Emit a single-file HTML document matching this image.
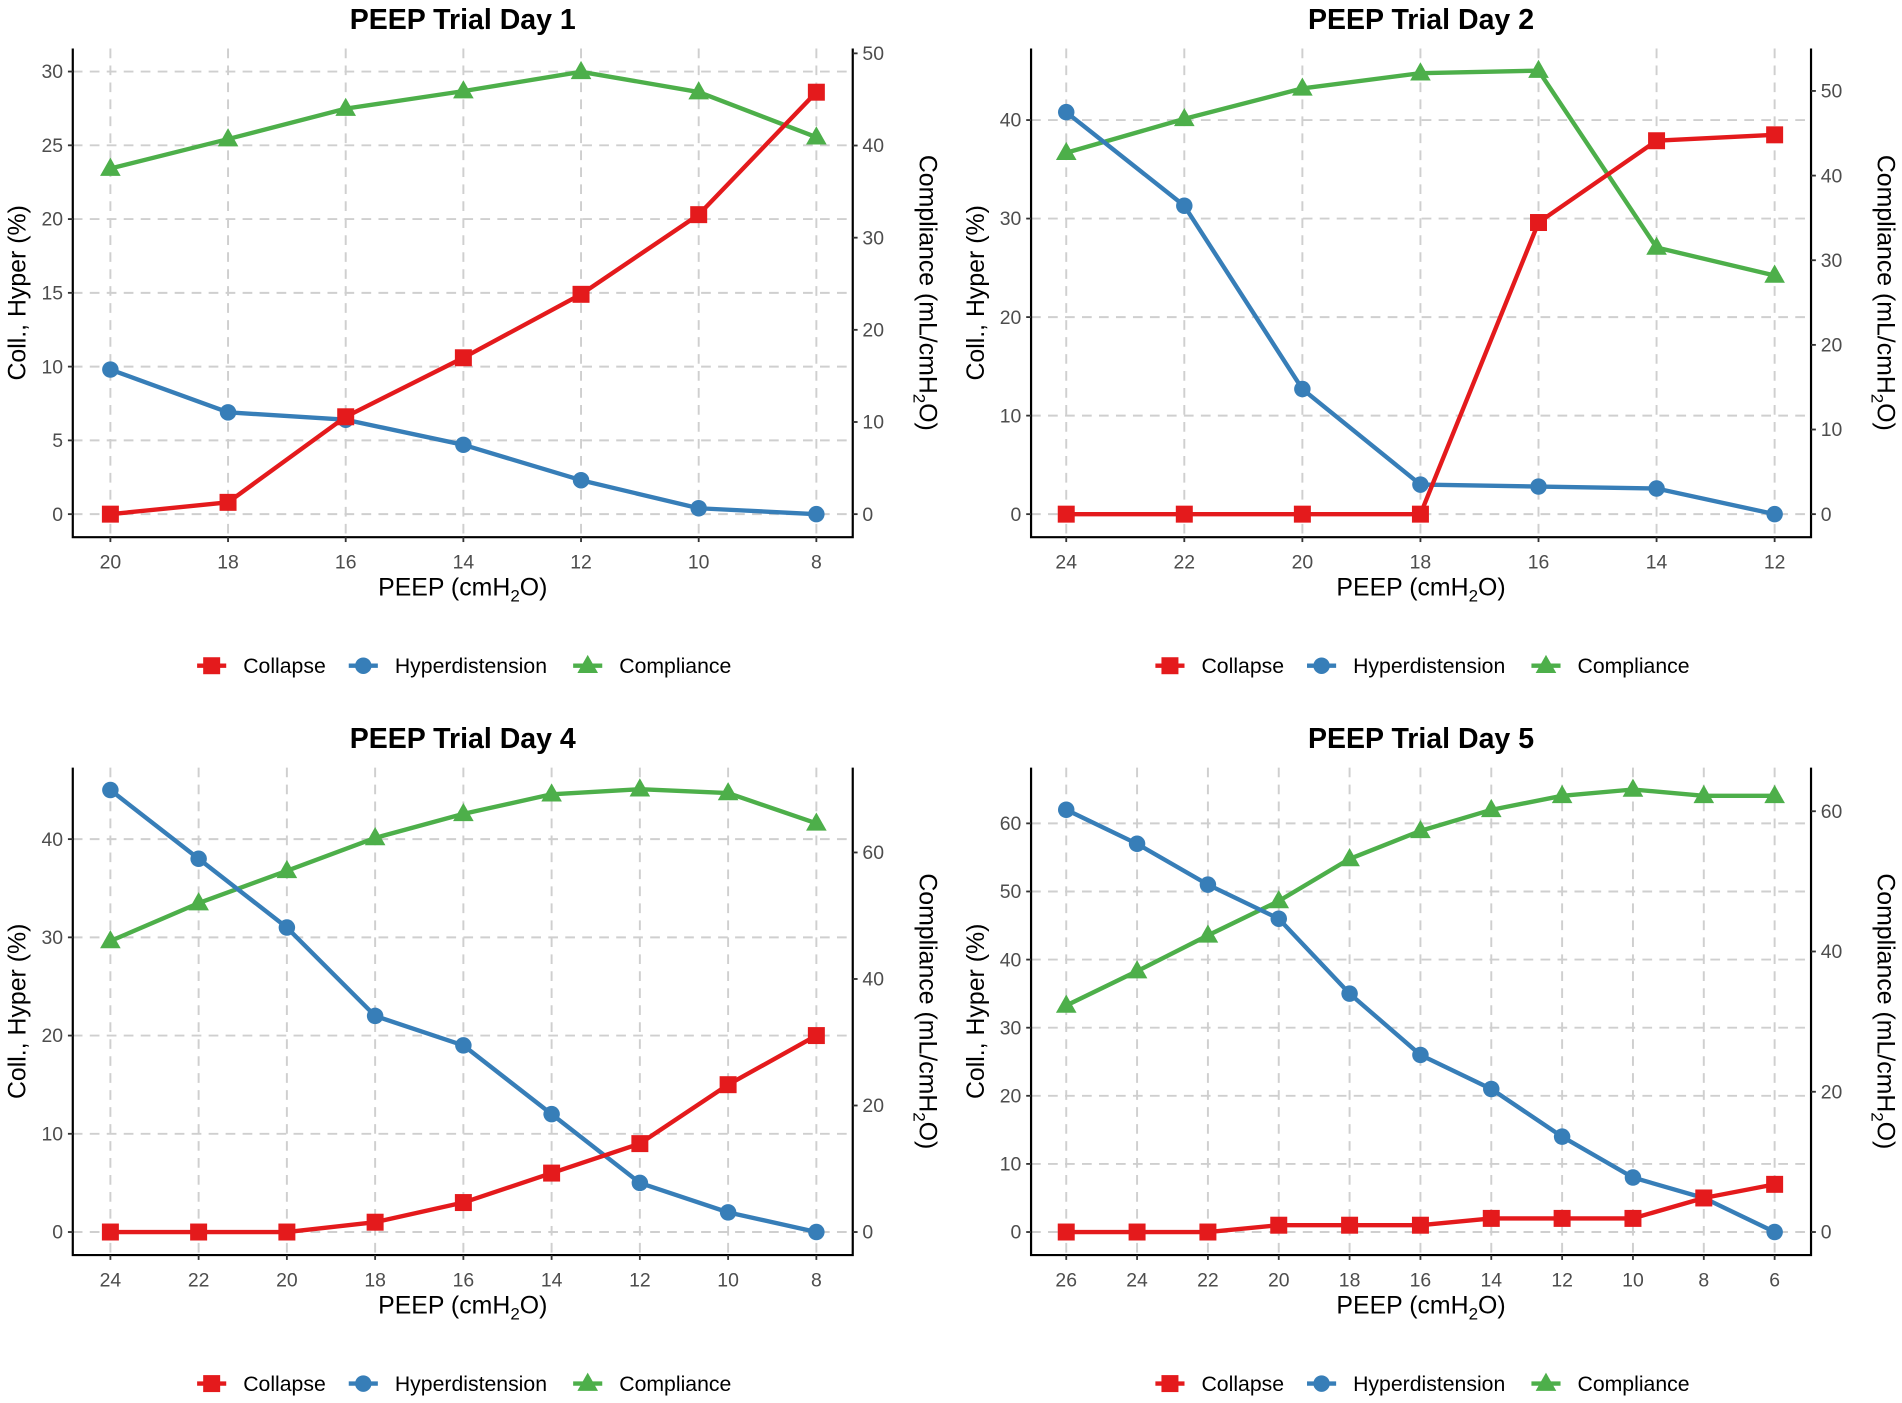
<!DOCTYPE html>
<html><head><meta charset="utf-8"><style>
html,body{margin:0;padding:0;background:#fff}
svg{display:block}
text{font-family:"Liberation Sans",sans-serif}
</style></head><body>
<svg id="chart" width="1902" height="1403" viewBox="0 0 1568 1157" preserveAspectRatio="none" xmlns="http://www.w3.org/2000/svg"></svg>
<script>
// Day 1
const d1Peep = [20,18,16,14,12,10,8];
const d1Collapse = [0,0.8,6.6,10.6,14.9,20.3,28.6];
const d1Hyper = [9.8,6.9,6.4,4.7,2.3,0.4,0];
const d1Compliance = [37.5,40.7,44,45.9,48,45.8,40.9];
const d1LeftTicks = [0,5,10,15,20,25,30];
const d1RightTicks = [0,10,20,30,40,50];
// Day 2
const d2Peep = [24,22,20,18,16,14,12];
const d2Collapse = [0,0,0,0,29.6,37.9,38.5];
const d2Hyper = [40.8,31.3,12.7,3,2.8,2.6,0];
const d2Compliance = [42.7,46.7,50.3,52.1,52.4,31.5,28.2];
const d2LeftTicks = [0,10,20,30,40];
const d2RightTicks = [0,10,20,30,40,50];
// Day 4
const d4Peep = [24,22,20,18,16,14,12,10,8];
const d4Collapse = [0,0,0,1,3,6,9,15,20];
const d4Hyper = [45,38,31,22,19,12,5,2,0];
const d4Compliance = [46,52,57.1,62.3,66.1,69.2,70,69.4,64.6];
const d4LeftTicks = [0,10,20,30,40];
const d4RightTicks = [0,20,40,60];
// Day 5
const d5Peep = [26,24,22,20,18,16,14,12,10,8,6];
const d5Collapse = [0,0,0,1,1,1,2,2,2,5,7];
const d5Hyper = [62,57,51,46,35,26,21,14,8,5,0];
const d5Compliance = [32.3,37.2,42.3,47.2,53.2,57.2,60.2,62.2,63.1,62.2,62.2];
const d5LeftTicks = [0,10,20,30,40,50,60];
const d5RightTicks = [0,20,40,60];

const svg = document.getElementById('chart');
const NS = 'http://www.w3.org/2000/svg';
function mk(tag, attrs, parent, txt){
  const e = document.createElementNS(NS, tag);
  for (const k in attrs) e.setAttribute(k, attrs[k]);
  if (txt !== undefined) e.textContent = txt;
  (parent||svg).appendChild(e);
  return e;
}
const RED='#e41a1c', BLUE='#377eb8', GREEN='#4daf4a';

function marker(g, type, x, y, color){
  let m;
  if (type==='sq') m = mk('rect',{x:x-7,y:y-7,width:14,height:14,fill:color},g);
  else if (type==='ci') m = mk('circle',{cx:x,cy:y,r:6.8,fill:color},g);
  else m = mk('polygon',{points:`${x},${y-9} ${x-8.5},${y+6} ${x+8.5},${y+6}`,fill:color},g);
  return m;
}

function panel(o){
  const g = mk('g',{});
  
  
  const n = o.peep.length;
  const xs = i => o.x0 + (o.x1 - o.x0) * i / (n - 1);
  const yl = v => o.y0 - (o.y0 - o.yTop) * v / o.lMax;
  const yr = v => o.y0 - (o.y0 - o.yRTop) * v / o.rMax;
  o.lTicks.forEach(t=>{
    const l = mk('line',{x1:o.L,x2:o.R,y1:yl(t),y2:yl(t),stroke:'#cfcfcf','stroke-width':1.6,'stroke-dasharray':'8,6'},g);
    
    
  });
  o.peep.forEach((p,i)=>{
    const l = mk('line',{x1:xs(i),x2:xs(i),y1:o.T,y2:o.B,stroke:'#cfcfcf','stroke-width':1.6,'stroke-dasharray':'8,6'},g);
    
    
  });
  mk('path',{d:`M${o.L},${o.T} V${o.B} H${o.R} V${o.T}`,fill:'none',stroke:'#000','stroke-width':1.8},g);
  o.lTicks.forEach(t=>{
    mk('line',{x1:o.L-4,x2:o.L,y1:yl(t),y2:yl(t),stroke:'#333','stroke-width':1.5},g);
    const tx = mk('text',{x:o.L-8,y:yl(t)+5.5,'text-anchor':'end','font-size':16,fill:'#4d4d4d'},g,String(t));
    
    
  });
  o.rTicks.forEach(t=>{
    mk('line',{x1:o.R,x2:o.R+4,y1:yr(t),y2:yr(t),stroke:'#333','stroke-width':1.5},g);
    const tx = mk('text',{x:o.R+8,y:yr(t)+5.5,'font-size':16,fill:'#4d4d4d'},g,String(t));
    
    
  });
  o.peep.forEach((p,i)=>{
    mk('line',{x1:xs(i),x2:xs(i),y1:o.B,y2:o.B+4,stroke:'#333','stroke-width':1.5},g);
    const tx = mk('text',{x:xs(i),y:o.B+26,'text-anchor':'middle','font-size':16,fill:'#4d4d4d'},g,String(p));
    
    
  });
  const cx = (o.L+o.R)/2, cy = (o.T+o.B)/2;
  const title = mk('text',{x:cx,y:o.T-16,'text-anchor':'middle','font-size':23.5,'font-weight':'bold',fill:'#000'},g,o.title);
  
  
  const xt = mk('text',{x:cx,y:o.B+48,'text-anchor':'middle','font-size':20.5,fill:'#000'},g);
  
  
  xt.innerHTML = 'PEEP (cmH<tspan font-size="14" dy="5">2</tspan><tspan dy="-5">O)</tspan>';
  const ylt = mk('text',{x:0,y:0,'text-anchor':'middle','font-size':20.5,fill:'#000',transform:`translate(${o.L-39},${cy}) rotate(-90)`},g,'Coll., Hyper (%)');
  
  
  const yrt = mk('text',{x:0,y:0,'text-anchor':'middle','font-size':20.5,fill:'#000',transform:`translate(${o.R+55},${cy}) rotate(90)`},g);
  
  
  yrt.innerHTML = 'Compliance (mL/cmH<tspan font-size="14" dy="5">2</tspan><tspan dy="-5">O)</tspan>';
  const series = [
    {vals:o.comp, f:yr, c:GREEN, m:'tr', name:'compliance'},
    {vals:o.hyper, f:yl, c:BLUE, m:'ci', name:'hyperdistension'},
    {vals:o.coll, f:yl, c:RED, m:'sq', name:'collapse'}
  ];
  series.forEach(s=>{
    const pts = s.vals.map((v,i)=>`${xs(i)},${s.f(v)}`).join(' ');
    const pl = mk('polyline',{points:pts,fill:'none',stroke:s.c,'stroke-width':3.6,'stroke-linejoin':'round'},g);
    
    
    s.vals.forEach((v,i)=>{
      const m = marker(g, s.m, xs(i), s.f(v), s.c);
      
      
    });
  });
  const ly = o.B + 106;
  const lg = mk('g',{},g);
  
  
  const items = [['Collapse',RED,'sq',-207],['Hyperdistension',BLUE,'ci',-82],['Compliance',GREEN,'tr',103]];
  items.forEach(it=>{
    const ex = cx + it[3];
    const e = mk('g',{},lg);
    
    
    mk('line',{x1:ex-12,x2:ex+12,y1:ly,y2:ly,stroke:it[1],'stroke-width':3.6},e);
    marker(e, it[2], ex, ly, it[1]);
    mk('text',{x:ex+26,y:ly+6,'font-size':17.5,fill:'#000'},e,it[0]);
  });
}

panel({name:'panel-day-1',title:'PEEP Trial Day 1',peep:d1Peep,coll:d1Collapse,hyper:d1Hyper,comp:d1Compliance,lTicks:d1LeftTicks,rTicks:d1RightTicks,
  L:60,R:703,T:40,B:443,x0:91,x1:673,y0:424,yTop:59,lMax:30,yRTop:44,rMax:50});
panel({name:'panel-day-2',title:'PEEP Trial Day 2',peep:d2Peep,coll:d2Collapse,hyper:d2Hyper,comp:d2Compliance,lTicks:d2LeftTicks,rTicks:d2RightTicks,
  L:850,R:1493,T:40,B:443,x0:879,x1:1463,y0:424,yTop:99,lMax:40,yRTop:75,rMax:50});
panel({name:'panel-day-4',title:'PEEP Trial Day 4',peep:d4Peep,coll:d4Collapse,hyper:d4Hyper,comp:d4Compliance,lTicks:d4LeftTicks,rTicks:d4RightTicks,
  L:60,R:703,T:633,B:1035,x0:91,x1:673,y0:1016,yTop:692,lMax:40,yRTop:703,rMax:60});
panel({name:'panel-day-5',title:'PEEP Trial Day 5',peep:d5Peep,coll:d5Collapse,hyper:d5Hyper,comp:d5Compliance,lTicks:d5LeftTicks,rTicks:d5RightTicks,
  L:850,R:1493,T:633,B:1035,x0:879,x1:1463,y0:1016,yTop:679,lMax:60,yRTop:669,rMax:60});
</script>
</body></html>
